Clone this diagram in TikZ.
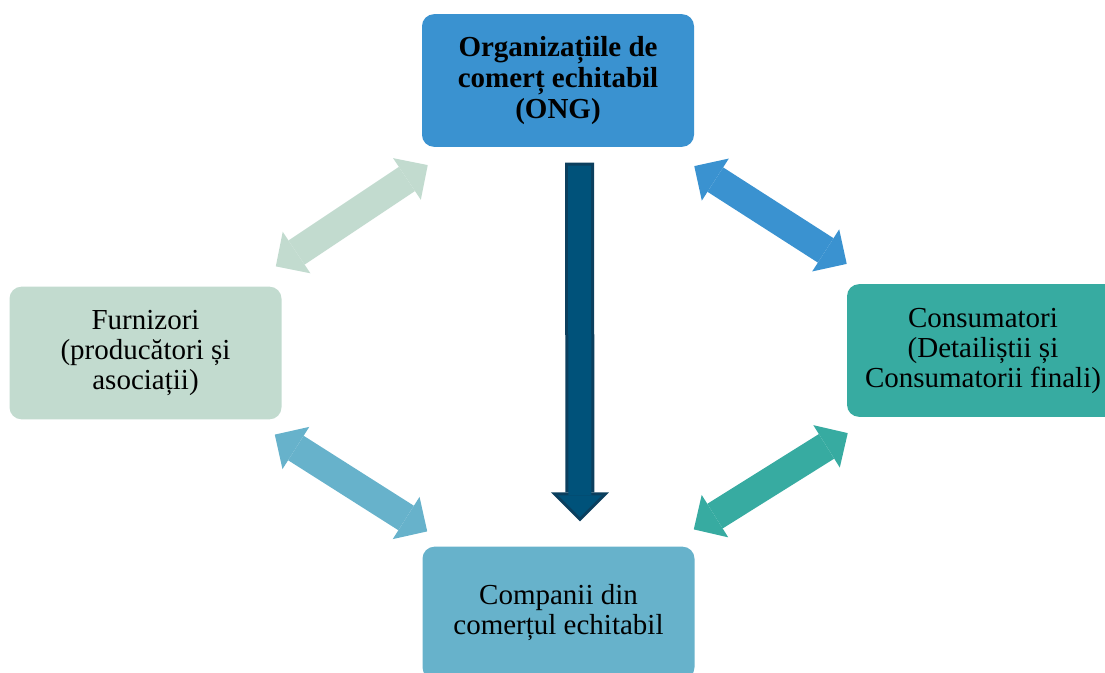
\documentclass[tikz,border=0pt]{standalone}
\usepackage{fontspec}
\setmainfont{Liberation Serif}
\usetikzlibrary{arrows.meta,calc}
\definecolor{ongblue}{HTML}{3A92D0}
\definecolor{furngreen}{HTML}{C2DBCF}
\definecolor{consteal}{HTML}{37ABA1}
\definecolor{compblue}{HTML}{67B2CB}
\definecolor{downedge}{HTML}{0B3F5E}
\definecolor{downfill}{HTML}{00527A}
\begin{document}
\begin{tikzpicture}[x=0.75pt,y=-0.75pt,
	box/.style={rounded corners=9pt,minimum width=204pt,minimum height=99.5pt,inner sep=0pt,align=center,font=\fontsize{21.75}{22.5}\selectfont},
	dbl/.style={line width=21.75pt,{Triangle[width=37.5pt,length=18.75pt,line width=0pt]}-{Triangle[width=37.5pt,length=18.75pt,line width=0pt]}}]
	\useasboundingbox (0,0) rectangle (1105,673);
	\clip (0,0) rectangle (1105,673);
	
	\node[box,fill=ongblue,font=\fontsize{21.75}{23}\selectfont\bfseries] (ong) at (558,80.5) {Organizațiile de\\comerț echitabil\\(ONG)};
	\node[box,fill=furngreen] (furn) at (145.5,353) {Furnizori\\(producători și\\asociații)};
	\node[box,fill=consteal] (cons) at (983,350.5) {Consumatori\\(Detailiștii și\\Consumatorii finali)};
	\node[box,fill=compblue] (comp) at (558.5,613) {Companii din\\comerțul echitabil};
	
	\coordinate (a1) at ($(ong.south east)+(0,19)$);
	\coordinate (a2) at ($(cons.north west)+(0,-20)$);
	\coordinate (b1) at ($(ong.south west)+(6,18)$);
	\coordinate (b2) at ($(furn.north east)+(-6,-20)$);
	\coordinate (c1) at ($(furn.south east)+(-7,15)$);
	\coordinate (c2) at ($(comp.north west)+(5,-15)$);
	\coordinate (d1) at ($(cons.south west)+(1,16)$);
	\coordinate (d2) at ($(comp.north east)+(-1,-17)$);
	\draw[dbl,ongblue] (a1) -- (a2);
	\draw[dbl,furngreen] (b1) -- (b2);
	\draw[dbl,compblue] (c1) -- (c2);
	\draw[dbl,consteal] (d1) -- (d2);
	
	\coordinate (ctop) at ($(ong.south)+(21.5,15.5)$);
	\coordinate (ctip) at ($(comp.north)+(21.5,-25)$);
	\draw[downedge,line width=21.75pt,-{Triangle[width=43.5pt,length=21.75pt,line width=0pt]}] (ctop) -- (ctip);
	\draw[downfill,line width=17.25pt,-{Triangle[width=32.7pt,length=16.35pt,line width=0pt]}] ($(ctop)+(0,3)$) -- ($(ctip)+(0,-4.2)$);
	
\end{tikzpicture}
\end{document}
